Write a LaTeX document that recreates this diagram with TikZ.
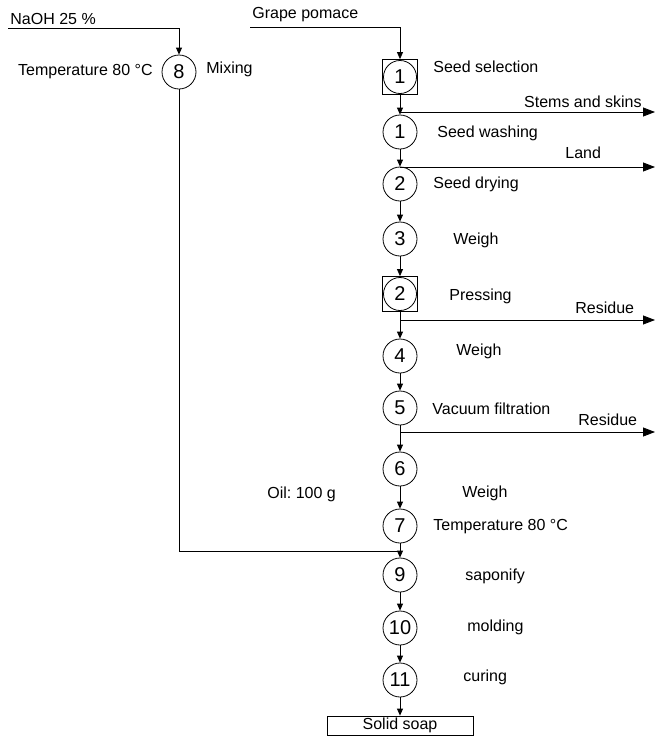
\documentclass[tikz,border=0pt]{standalone}
\usepackage{fontspec}
\setmainfont{Liberation Sans}
\usetikzlibrary{arrows.meta}
\frenchspacing
\begin{document}
\begin{tikzpicture}[x=1pt,y=-1pt,line width=0.8pt,
  proc/.style={circle,draw,minimum size=34pt,inner sep=0pt,font=\fontsize{20}{22}\selectfont},
  procbox/.style={rectangle,draw,minimum size=35pt,inner sep=0pt,font=\fontsize{20}{22}\selectfont,
    path picture={\draw (path picture bounding box.center) circle (16.5pt);}},
  lbl/.style={anchor=west,inner sep=0pt,font=\fontsize{16}{18}\selectfont},
  arr/.style={-{Triangle[length=7pt,width=6pt]}},
  outarr/.style={-{Triangle[length=12pt,width=9pt]}}]
\useasboundingbox (0,0) rectangle (655,737);
% main column
\node[procbox] (s1) at (400,77) {1};
\node[proc] (c1) at (400,132) {1};
\node[proc] (c2) at (400,184) {2};
\node[proc] (c3) at (400,239) {3};
\node[procbox] (s2) at (400,294) {2};
\node[proc] (c4) at (400,356) {4};
\node[proc] (c5) at (400,408) {5};
\node[proc] (c6) at (400,469) {6};
\node[proc] (c7) at (400,526) {7};
\node[proc] (c9) at (400,575) {9};
\node[proc] (c10) at (400,628) {10};
\node[proc] (c11) at (400,680) {11};
\node[rectangle,draw,minimum width=146pt,minimum height=19pt,inner sep=0pt,font=\fontsize{16}{18}\selectfont] (soap) at (400,725.5) {Solid soap};
\node[proc] (c8) at (179,72) {8};
% inputs
\coordinate (naohs) at (8,28);
\coordinate (grapes) at (250,27);
\node[lbl] (tnaoh) at (10,19) {NaOH 25 \%};
\node[lbl] (tgrape) at (252,15) {Grape pomace};
\draw[arr] (naohs) -| (c8);
\draw[arr] (grapes) -| (s1);
% vertical flow
\draw[arr] (s1) -- (c1);
\draw[arr] (c1) -- (c2);
\draw[arr] (c2) -- (c3);
\draw[arr] (c3) -- (s2);
\draw[arr] (s2) -- (c4);
\draw[arr] (c4) -- (c5);
\draw[arr] (c5) -- (c6);
\draw[arr] (c6) -- (c7);
\draw[arr] (c7) -- (c9);
\draw[arr] (c9) -- (c10);
\draw[arr] (c10) -- (c11);
\draw[arr] (c11) -- (soap);
% mixing line
\coordinate (mixj) at (400,551);
\draw (c8) |- (mixj);
% outputs
\coordinate (b1) at (400,112); \coordinate (e1) at (655,112);
\coordinate (b2) at (400,167); \coordinate (e2) at (655,167);
\coordinate (b3) at (400,320); \coordinate (e3) at (655,320);
\coordinate (b4) at (400,432); \coordinate (e4) at (655,432);
\draw[outarr] (b1) -- (e1);
\draw[outarr] (b2) -- (e2);
\draw[outarr] (b3) -- (e3);
\draw[outarr] (b4) -- (e4);
\node[lbl,anchor=east] (tstem) at (642,102) {Stems and skins};
\node[lbl] (tland) at (565,153) {Land};
\node[lbl] (tres1) at (575,308) {Residue};
\node[lbl] (tres2) at (578,420) {Residue};
% labels
\node[lbl,anchor=east] (ttemp8) at (153,72) {Temperature 80 °C};
\node[lbl] (tmix) at (206,69) {Mixing};
\node[lbl] (tsel) at (433,67) {Seed selection};
\node[lbl] (twash) at (437,133) {Seed washing};
\node[lbl] (tdry) at (433,184) {Seed drying};
\node[lbl] (tw3) at (453,240) {Weigh};
\node[lbl] (tpress) at (449,296) {Pressing};
\node[lbl] (tw4) at (456,351) {Weigh};
\node[lbl] (tvac) at (432,409) {Vacuum filtration};
\node[lbl] (toil) at (267,494) {Oil: 100 g};
\node[lbl] (tw6) at (462,493) {Weigh};
\node[lbl] (ttemp7) at (433,527) {Temperature 80 °C};
\node[lbl] (tsap) at (465,576) {saponify};
\node[lbl] (tmold) at (467,627) {molding};
\node[lbl] (tcure) at (463,677) {curing};
\end{tikzpicture}
\end{document}
